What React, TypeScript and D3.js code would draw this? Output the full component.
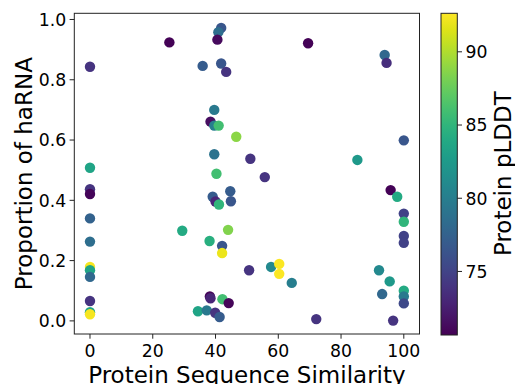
import React from "react";
import * as d3 from "d3";

const similarity = [
  0, 25.3, 41.8, 40.9, 40.6, 35.9, 41.8, 43.4, 39.6, 38.4, 39.6, 41.0, 46.6, 39.6, 51.1, 0, 40.3,
  69.5, 93.9, 94.5, 100, 85.2, 55.7,
  0, 0, 39.1, 40.0, 41.1, 44.7, 44.9, 0, 0, 29.4, 38.1, 44.0, 42.1, 42.1, 0, 0, 0, 50.7, 0, 0, 0,
  38.2, 38.4, 42.2, 44.2, 34.4, 37.2, 39.9, 41.3,
  95.8, 97.9, 100, 100, 100, 100, 57.7, 60.3, 60.3, 64.3, 72.1, 92.1, 95.5, 93.1, 100, 100, 100, 96.6,
];
const proportion = [
  0.843, 0.924, 0.972, 0.958, 0.933, 0.846, 0.854, 0.826, 0.700, 0.661, 0.648, 0.648, 0.611, 0.553, 0.538, 0.508, 0.488,
  0.921, 0.882, 0.856, 0.599, 0.534, 0.477,
  0.437, 0.421, 0.412, 0.396, 0.386, 0.430, 0.397, 0.340, 0.263, 0.299, 0.265, 0.302, 0.249, 0.225, 0.179, 0.168, 0.146, 0.168, 0.066, 0.029, 0.022,
  0.081, 0.075, 0.072, 0.059, 0.032, 0.035, 0.027, 0.013,
  0.434, 0.412, 0.356, 0.329, 0.282, 0.259, 0.179, 0.189, 0.156, 0.126, 0.006, 0.168, 0.131, 0.089, 0.100, 0.081, 0.058, 0.001,
];
const plddt = [
  74, 70.8, 76.5, 78.5, 71.2, 77, 76.5, 74, 79.5, 71.5, 80, 86, 88.8, 79, 74, 83.5, 86,
  70.8, 78, 73.5, 76.5, 82.5, 74,
  74, 71, 77, 73, 85, 77, 76.5, 77.5, 78.5, 84, 84.5, 88.5, 76.5, 92, 92.3, 83.5, 78, 74, 74, 83.5, 92.3,
  71, 73, 86, 71, 83.5, 79.5, 74, 77,
  70.8, 84, 75, 85, 75, 75, 81, 92.5, 92.5, 80, 74, 81, 82.5, 78, 84, 79.5, 75.5, 74,
];

const xTicks = [0, 20, 40, 60, 80, 100];
const yTicks = [0, 0.2, 0.4, 0.6, 0.8, 1.0];
const cTicks = [75, 80, 85, 90];

export default function App() {
  const W = 515, H = 384;
  const left = 74.3, right = 419.5, top = 13.3, bottom = 334;
  const x = d3.scaleLinear().domain([-5, 105]).range([left, right]);
  const y = d3.scaleLinear().domain([-0.0435, 1.0205]).range([bottom, top]);
  const cmin = 70.66, cmax = 92.63;
  const color = d3.scaleSequential(d3.interpolateViridis).domain([cmin, cmax]);
  const cbL = 441, cbR = 457.3;
  const cy = d3.scaleLinear().domain([cmin, cmax]).range([bottom + 1, top]);
  const font = "DejaVu Sans, sans-serif";
  const stops = d3.range(0, 1.0001, 0.05);
  const idx = d3.range(similarity.length);
  const tickFs = 17.3;
  const labFs = 23;

  return (
    <svg width={W} height={H} style={{ position: "absolute", left: 0, top: 0 }} fontFamily={font}>
      <defs>
        <linearGradient id="vir" x1="0" y1="1" x2="0" y2="0">
          {stops.map((t) => (
            <stop key={t} offset={t} stopColor={d3.interpolateViridis(t)} />
          ))}
        </linearGradient>
      </defs>
      <rect x={0} y={0} width={W} height={H} fill="#fff" />
      {idx.map((i) => (
        <circle key={i} cx={x(similarity[i])} cy={y(proportion[i])} r={5.2} fill={color(plddt[i])} />
      ))}
      <rect x={left} y={top} width={right - left} height={bottom - top} fill="none" stroke="#222" strokeWidth={1} />
      {xTicks.map((t) => (
        <g key={t}>
          <line x1={x(t)} x2={x(t)} y1={bottom} y2={bottom + 4.7} stroke="#222" />
          <text x={x(t)} y={357} fontSize={tickFs} textAnchor="middle" fill="#000">{t}</text>
        </g>
      ))}
      {yTicks.map((t) => (
        <g key={t}>
          <line x1={left - 4.7} x2={left} y1={y(t)} y2={y(t)} stroke="#222" />
          <text x={66.3} y={y(t) + 6.3} fontSize={tickFs} textAnchor="end" fill="#000">{t.toFixed(1)}</text>
        </g>
      ))}
      <text x={(left + right) / 2} y={383.4} fontSize={labFs} textAnchor="middle" fill="#000">Protein Sequence Similarity</text>
      <text transform={`translate(31.5,${(top + bottom) / 2}) rotate(-90)`} fontSize={labFs} textAnchor="middle" fill="#000">Proportion of haRNA</text>
      <rect x={cbL} y={top} width={cbR - cbL} height={bottom + 1 - top} fill="url(#vir)" stroke="#222" strokeWidth={1} />
      {cTicks.map((t) => (
        <g key={t}>
          <line x1={cbR} x2={cbR + 4.7} y1={cy(t)} y2={cy(t)} stroke="#222" />
          <text x={465.5} y={cy(t) + 6.3} fontSize={tickFs} fill="#000">{t}</text>
        </g>
      ))}
      <text transform={`translate(511,${(top + bottom) / 2}) rotate(-90)`} fontSize={labFs} textAnchor="middle" fill="#000">Protein pLDDT</text>
    </svg>
  );
}
